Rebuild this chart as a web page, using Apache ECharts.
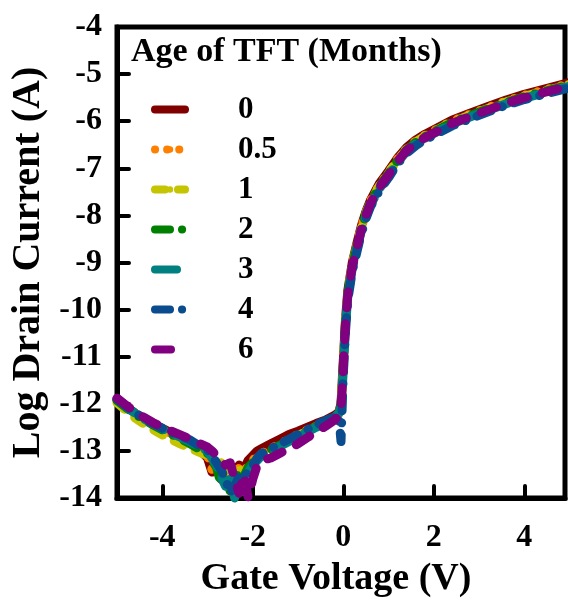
<!DOCTYPE html>
<html>
<head>
<meta charset="utf-8">
<script src="https://cdn.jsdelivr.net/npm/echarts@6/dist/echarts.min.js"></script>
<style>
  html, body { margin: 0; padding: 0; background: #fff; }
  #chart { width: 568px; height: 604px; }
</style>
</head>
<body>
<div id="chart"></div>
<script>
// Gate voltage sweep (V)
const gateVoltage = [
  -5.0, -4.8, -4.6, -4.4, -4.2, -4.0, -3.8, -3.6, -3.4, -3.2, -3.0,
  -2.9, -2.8, -2.7, -2.6, -2.5, -2.4, -2.3, -2.2, -2.1, -2.0, -1.9, -1.8,
  -1.6, -1.4, -1.2, -1.0, -0.8, -0.6, -0.4, -0.2,
  -0.1, -0.05, 0.0, 0.05, 0.1,
  0.2, 0.3, 0.4, 0.5, 0.6,
  0.8, 1.0, 1.2, 1.4, 1.6, 1.8, 2.0,
  2.4, 2.8, 3.2, 3.6, 4.0, 4.4, 4.8, 5.0
];

// Device age for each transfer curve (months)
const ageLabels = ['0', '0.5', '1', '2', '3', '4', '6'];

// log10 of drain current (A) for each age
const logId_0 = [
  -11.92, -12.06, -12.20, -12.32, -12.43, -12.52, -12.62, -12.72, -12.82, -12.95, -13.15,
  -13.45, -13.30, -13.60, -13.40, -13.75, -13.50, -13.30, -13.40, -13.20, -13.10, -13.00, -12.95,
  -12.85, -12.75, -12.65, -12.58, -12.50, -12.42, -12.35, -12.25,
  -12.18, -12.00, -11.10, -10.20, -9.60,
  -9.00, -8.60, -8.22, -7.92, -7.68,
  -7.32, -7.06, -6.78, -6.56, -6.40, -6.28, -6.18,
  -5.98, -5.83, -5.69, -5.55, -5.43, -5.33, -5.23, -5.18
];
const logId_05 = [
  -11.91, -12.07, -12.20, -12.33, -12.44, -12.55, -12.64, -12.73, -12.84, -12.96, -13.10,
  -13.40, -13.25, -13.50, -13.35, -13.65, -13.55, -13.35, -13.45, -13.30, -13.20, -13.10, -13.05,
  -12.95, -12.85, -12.75, -12.65, -12.56, -12.47, -12.38, -12.28,
  -12.20, -12.03, -11.15, -10.25, -9.63,
  -9.03, -8.63, -8.25, -7.95, -7.70,
  -7.35, -7.09, -6.80, -6.58, -6.42, -6.30, -6.20,
  -6.00, -5.85, -5.71, -5.57, -5.45, -5.35, -5.25, -5.20
];
const logId_1 = [
  -11.98, -12.14, -12.30, -12.43, -12.55, -12.66, -12.76, -12.85, -12.94, -13.02, -13.10,
  -13.20, -13.30, -13.25, -13.45, -13.40, -13.60, -13.40, -13.50, -13.35, -13.25, -13.15, -13.10,
  -13.00, -12.90, -12.78, -12.68, -12.58, -12.48, -12.40, -12.30,
  -12.22, -12.05, -11.20, -10.28, -9.66,
  -9.06, -8.66, -8.28, -7.97, -7.72,
  -7.37, -7.11, -6.82, -6.60, -6.44, -6.32, -6.22,
  -6.02, -5.87, -5.73, -5.59, -5.47, -5.37, -5.27, -5.22
];
const logId_2 = [
  -11.93, -12.08, -12.22, -12.34, -12.45, -12.55, -12.65, -12.74, -12.84, -12.95, -13.05,
  -13.20, -13.35, -13.70, -13.50, -13.85, -13.60, -13.45, -13.55, -13.35, -13.25, -13.15, -13.05,
  -12.98, -12.88, -12.78, -12.68, -12.58, -12.48, -12.40, -12.30,
  -12.22, -12.06, -11.20, -10.28, -9.66,
  -9.07, -8.67, -8.28, -7.98, -7.73,
  -7.38, -7.12, -6.83, -6.61, -6.45, -6.33, -6.23,
  -6.03, -5.88, -5.74, -5.60, -5.48, -5.38, -5.28, -5.23
];
const logId_3 = [
  -11.90, -12.06, -12.20, -12.32, -12.43, -12.53, -12.62, -12.71, -12.80, -12.90, -13.00,
  -13.15, -13.30, -13.55, -13.75, -13.60, -14.00, -13.70, -13.50, -13.45, -13.30, -13.20, -13.10,
  -13.00, -12.90, -12.80, -12.70, -12.60, -12.50, -12.42, -12.30,
  -12.20, -12.08, -11.30, -10.35, -9.72,
  -9.12, -8.72, -8.33, -8.03, -7.78,
  -7.43, -7.16, -6.87, -6.64, -6.48, -6.36, -6.26,
  -6.06, -5.91, -5.77, -5.63, -5.51, -5.41, -5.31, -5.26
];
const logId_4 = [
  -11.90, -12.05, -12.19, -12.31, -12.42, -12.52, -12.60, -12.68, -12.76, -12.88, -12.98,
  -13.10, -13.25, -13.40, -13.60, -13.90, -13.75, -13.55, -13.60, -13.40, -13.30, -13.15, -13.05,
  -12.95, -12.85, -12.75, -12.65, -12.55, -12.45, -12.36, -12.28,
  -12.25, -12.80, -11.40, -10.45, -9.80,
  -9.18, -8.78, -8.38, -8.07, -7.82,
  -7.47, -7.20, -6.90, -6.68, -6.52, -6.40, -6.30,
  -6.10, -5.95, -5.80, -5.66, -5.54, -5.44, -5.34, -5.29
];
const logId_6 = [
  -11.88, -12.03, -12.17, -12.29, -12.40, -12.50, -12.58, -12.66, -12.74, -12.83, -12.92,
  -13.00, -13.10, -13.20, -13.30, -13.25, -13.60, -13.90, -13.50, -14.00, -13.60, -13.30, -13.20,
  -13.15, -13.05, -12.95, -12.85, -12.72, -12.60, -12.48, -12.35,
  -12.25, -12.10, -11.25, -10.30, -9.68,
  -9.08, -8.68, -8.30, -8.00, -7.75,
  -7.40, -7.14, -6.85, -6.62, -6.47, -6.35, -6.25,
  -6.05, -5.90, -5.76, -5.62, -5.50, -5.40, -5.30, -5.25
];

const currents = [logId_0, logId_05, logId_1, logId_2, logId_3, logId_4, logId_6];
const colors = ['#800000', '#ff8000', '#c4c400', '#008000', '#008080', '#0a4c8e', '#800080'];
const dashes = [
  'solid',
  [0.1, 12],
  [10, 13],
  [15, 12, 0.1, 12],
  [22, 12],
  [15, 12, 0.1, 12],
  [16, 16]
];

// Tick positions
const xTicks = [-4, -2, 0, 2, 4];

const FONT = '"Liberation Serif", "Times New Roman", serif';

const series = ageLabels.map((name, k) => ({
  name: name,
  type: 'line',
  data: gateVoltage.map((v, i) => [v, currents[k][i]]),
  showSymbol: false,
  symbol: 'none',
  clip: false,
  z: 2 + k,
  lineStyle: {
    color: colors[k],
    width: 9,
    type: dashes[k],
    cap: 'round',
    join: 'round'
  },
  itemStyle: { color: colors[k] },
  emphasis: { disabled: true }
}));

const chart = echarts.init(document.getElementById('chart'), null, { renderer: 'canvas' });
chart.setOption({
  animation: false,
  backgroundColor: '#fff',
  title: {
    text: 'Age of TFT (Months)',
    left: 131,
    top: 35,
    padding: 0,
    textStyle: { fontFamily: FONT, fontWeight: 'bold', fontSize: 34, color: '#000' }
  },
  legend: {
    orient: 'vertical',
    left: 151,
    top: 94,
    padding: 0,
    itemWidth: 30,
    itemHeight: 8,
    itemGap: 9,
    selectedMode: false,
    lineStyle: { width: 8 },
    textStyle: {
      fontFamily: FONT, fontWeight: 'bold', fontSize: 31, color: '#000',
      lineHeight: 30, padding: [0, 0, 0, 48]
    },
    data: ageLabels
  },
  grid: {
    left: 117, right: 3, top: 27, bottom: 106,
    show: true, borderColor: '#000', borderWidth: 5,
    containLabel: false
  },
  xAxis: {
    type: 'value',
    min: -5, max: 4.9, interval: 1,
    name: 'Gate Voltage (V)',
    nameLocation: 'middle',
    nameGap: 62,
    nameTextStyle: { fontFamily: FONT, fontWeight: 'bold', fontSize: 38, color: '#000', padding: [0, 10, 0, 0] },
    axisLine: { show: true, onZero: false, lineStyle: { color: '#000', width: 5 } },
    axisTick: {
      show: true, inside: true, length: 12, customValues: xTicks,
      lineStyle: { color: '#000', width: 4, cap: 'round' }
    },
    axisLabel: {
      customValues: xTicks,
      margin: 24,
      fontFamily: FONT, fontWeight: 'bold', fontSize: 32, color: '#000'
    },
    splitLine: { show: false }
  },
  yAxis: {
    type: 'value',
    min: -14, max: -4, interval: 1,
    name: 'Log Drain Current (A)',
    nameLocation: 'middle',
    nameGap: 66,
    nameRotate: 90,
    nameTextStyle: { fontFamily: FONT, fontWeight: 'bold', fontSize: 40, color: '#000' },
    axisLine: { show: true, onZero: false, lineStyle: { color: '#000', width: 5 } },
    axisTick: {
      show: true, inside: true, length: 12,
      lineStyle: { color: '#000', width: 4, cap: 'round' }
    },
    axisLabel: {
      margin: 15,
      showMinLabel: true, showMaxLabel: true,
      fontFamily: FONT, fontWeight: 'bold', fontSize: 32, color: '#000'
    },
    splitLine: { show: false }
  },
  series: series
});
</script>
</body>
</html>
